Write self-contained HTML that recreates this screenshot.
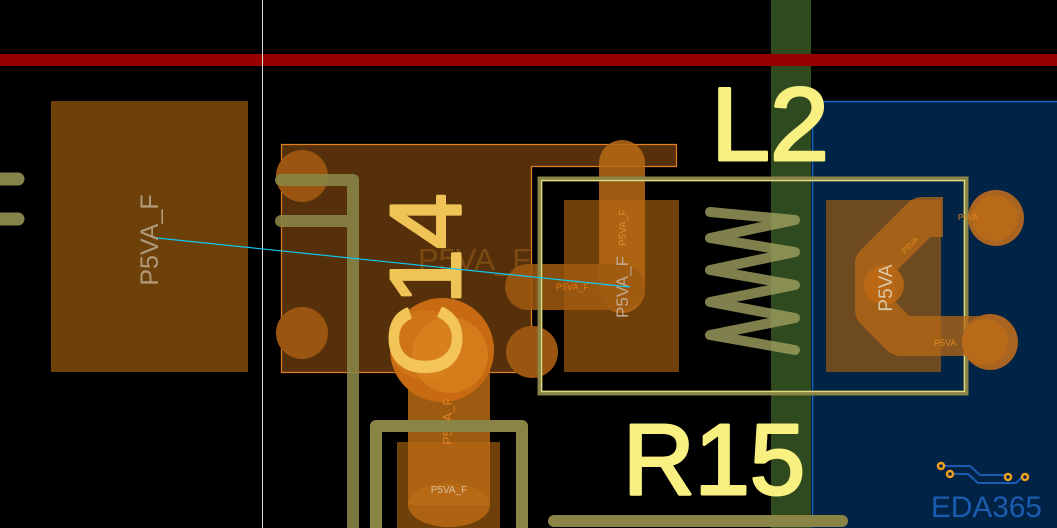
<!DOCTYPE html>
<html><head><meta charset="utf-8"><style>
html,body{margin:0;padding:0;background:#000;width:1057px;height:528px;overflow:hidden}
svg{display:block}
text{font-family:"Liberation Sans",sans-serif}
</style></head><body>
<svg width="1057" height="528" viewBox="0 0 1057 528">
<rect width="1057" height="528" fill="#000"/>
<rect x="812" y="101" width="245" height="427" fill="#002346"/>
<path d="M812.5 528 V101.5 H1057" stroke="#1466c8" stroke-width="1.5" fill="none"/>
<rect x="771" y="0" width="40" height="528" fill="#2f4a1e"/>
<rect x="0" y="54" width="1057" height="12" fill="#990000"/>
<rect x="262" y="0" width="1" height="528" fill="#d8d8d8"/>
<g stroke="#85824a" stroke-width="13" stroke-linecap="round">
<line x1="-5" y1="179" x2="18" y2="179"/>
<line x1="-5" y1="219" x2="18" y2="219"/>
</g>
<rect x="51" y="101" width="197" height="271" fill="#6e400a"/>
<text transform="translate(158,240) rotate(-90)" text-anchor="middle" font-size="25" fill="#b09a78">P5VA_F</text>
<path d="M281.5 144.5 H676.5 V166.5 H531.5 V372.5 H281.5 Z" fill="#55300a" stroke="#e08020" stroke-width="1.2"/>
<g fill="#9a5510">
<circle cx="302" cy="176" r="26"/>
<circle cx="302" cy="333" r="26"/>
<circle cx="532" cy="352" r="26"/>
</g>
<g stroke="#8a8446" stroke-width="12" stroke-linecap="round" fill="none" opacity="0.9">
<line x1="281" y1="180" x2="353" y2="180"/>
<line x1="281" y1="221" x2="347" y2="221"/>
<line x1="353" y1="180" x2="353" y2="540"/>
</g>
<text x="418" y="270" font-size="31" fill="#7a4a10">P5VA_F</text>
<rect x="564" y="200" width="115" height="172" fill="#70400a"/>
<line x1="622" y1="163" x2="622" y2="290" stroke="#b86a14" stroke-width="46" stroke-linecap="round" opacity="0.85"/>
<line x1="528" y1="287" x2="622" y2="287" stroke="#a05a10" stroke-width="46" stroke-linecap="round" opacity="0.85"/>
<text x="556" y="290" font-size="9" fill="#e07a14">P5VA_F</text>
<text transform="translate(628,318) rotate(-90)" font-size="17" fill="#c0a890">P5VA_F</text>
<text transform="translate(626,246) rotate(-90)" font-size="10" fill="#e08a30">P5VA_F</text>
<rect x="397" y="442" width="103" height="86" fill="#70400a"/>
<rect x="408" y="345" width="82" height="160" fill="#b86a14" opacity="0.85"/>
<ellipse cx="449" cy="505" rx="41" ry="22" fill="#b86a14" opacity="0.85"/>
<circle cx="442" cy="350" r="52" fill="#c86a12"/>
<circle cx="425" cy="345" r="35" fill="#d27a1a" opacity="0.7"/>
<circle cx="450" cy="355" r="38" fill="#e08a20" opacity="0.55"/>
<text transform="translate(452,445) rotate(-90)" font-size="13" fill="#e08020">P5VA_F</text>
<text x="449" y="493" text-anchor="middle" font-size="10" fill="#d8c0a0">P5VA_F</text>
<path d="M376 540 V426 H522 V540" stroke="#8a8446" stroke-width="12" fill="none" stroke-linejoin="round"/>
<text transform="translate(460,285) rotate(-90)" text-anchor="middle" font-size="100" fill="#f5c85a" stroke="#f5c85a" stroke-width="3" stroke-linejoin="round" opacity="0.97">C14</text>
<rect x="540" y="179" width="426" height="214" fill="none" stroke="#8a8446" stroke-width="5"/>
<rect x="541.5" y="180.5" width="423" height="211" fill="none" stroke="#f0f090" stroke-width="1.3" opacity="0.8"/>
<rect x="826" y="200" width="115" height="172" fill="#6e4a20"/>
<path d="M943 217 H922 L875 264 V310 L901 336 H990" stroke="#b86a14" stroke-width="40" fill="none" stroke-linejoin="round" opacity="0.75"/>
<circle cx="884" cy="285" r="20" fill="#c06a14" opacity="0.8"/>
<circle cx="996" cy="218" r="28" fill="#a86420"/>
<circle cx="995" cy="218" r="23" fill="#b86a18"/>
<circle cx="990" cy="342" r="28" fill="#a86420"/>
<circle cx="985" cy="342" r="23" fill="#b86a18"/>
<text transform="translate(892,288) rotate(-90)" text-anchor="middle" font-size="19" fill="#d8c8a8">P5VA</text>
<text x="958" y="220" font-size="8" fill="#e08a20">P5VA</text>
<text x="934" y="346" font-size="9" fill="#e08a20">P5VA</text>
<text transform="translate(912,247) rotate(-45)" text-anchor="middle" font-size="8" fill="#e08a20">P5VA</text>
<polyline points="710,212 795,220 710,238 795,252 710,270 795,285 710,302 795,318 710,335 795,350" fill="none" stroke="#a0a060" stroke-width="10" stroke-linecap="round" stroke-linejoin="round" opacity="0.8"/>
<text x="711" y="160" font-size="104" fill="#f8f080" stroke="#f8f080" stroke-width="3" stroke-linejoin="round" textLength="118" lengthAdjust="spacingAndGlyphs">L2</text>
<text x="623" y="494" font-size="100" fill="#f8f080" stroke="#f8f080" stroke-width="3" stroke-linejoin="round" textLength="182" lengthAdjust="spacingAndGlyphs">R15</text>
<line x1="554" y1="521" x2="842" y2="521" stroke="#8a8446" stroke-width="12" stroke-linecap="round"/>
<line x1="157" y1="238" x2="630" y2="287" stroke="#10c8f0" stroke-width="1.2"/>
<g fill="none" stroke="#1a5cb0" stroke-width="2">
<path d="M944 466 H970 L980 475 H1008"/>
<path d="M951 474 H968 L978 483 H1016 L1022 477"/>
</g>
<g fill="#002346" stroke="#f0a020" stroke-width="2.5">
<circle cx="941" cy="466" r="3"/><circle cx="950" cy="474" r="3"/>
<circle cx="1008" cy="477" r="3"/><circle cx="1025" cy="477" r="3"/>
</g>
<text x="931" y="517" font-size="30" fill="#1a5cb0" textLength="111" lengthAdjust="spacingAndGlyphs">EDA365</text>
</svg>
</body></html>
